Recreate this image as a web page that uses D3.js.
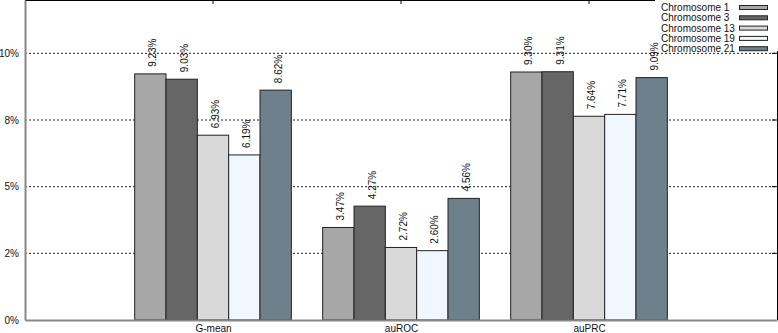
<!DOCTYPE html>
<html>
<head>
<meta charset="utf-8">
<script src="https://cdn.jsdelivr.net/npm/d3@7"></script>
<style>
    body { margin: 0; background: #fff; }
    #chart { width: 778px; height: 333px; }
    text { font-family: "Liberation Sans", Arial, sans-serif; font-size: 10px; fill: #111; }
</style>
</head>
<body>
<div id="chart"></div>
<script>
// data
const categories = ["G-mean", "auROC", "auPRC"];
const seriesNames = ["Chromosome 1", "Chromosome 3", "Chromosome 13", "Chromosome 19", "Chromosome 21"];
const chr1 = [9.23, 3.47, 9.30];
const chr3 = [9.03, 4.27, 9.31];
const chr13 = [6.93, 2.72, 7.64];
const chr19 = [6.19, 2.60, 7.71];
const chr21 = [8.62, 4.56, 9.09];
const yTickValues = [0, 2.5, 5, 7.5, 10];
const yTickLabels = ["0%", "2%", "5%", "8%", "10%"];

const colors = ["#a7a7a7", "#666666", "#d9d9d9", "#f0f7fe", "#6f808d"];

class GroupedBars {
    constructor(parentElement) {
        this.parentElement = parentElement;
        this.series = [chr1, chr3, chr13, chr19, chr21];
        this.displayData = [];
        this.series.forEach((vals, s) => {
            vals.forEach((v, c) => {
                this.displayData.push({series: s, cat: c, value: v});
            });
        });
    }

    initVis() {
        let vis = this;

        vis.margin = {top: 0, right: 1, bottom: 13, left: 25};
        vis.width = 778 - vis.margin.left - vis.margin.right;
        vis.height = 333 - vis.margin.top - vis.margin.bottom;

        vis.svg = d3.select("#" + vis.parentElement)
            .append("svg")
            .attr("width", 778)
            .attr("height", 333)
            .append("g")
            .attr("transform", "translate(" + vis.margin.left + "," + vis.margin.top + ")");

        // gnuplot style: groups at 1,2,3 on a 0..4 range
        vis.x = d3.scaleLinear().domain([0, 4]).range([0, vis.width]);
        vis.y = d3.scaleLinear().domain([0, 12]).range([vis.height, 0]);
        vis.barW = 1 / 6;

        // grid
        vis.svg.selectAll(".grid")
            .data(yTickValues.slice(1))
            .enter().append("line")
            .attr("class", "grid")
            .attr("x1", 0).attr("x2", vis.width)
            .attr("y1", d => vis.y(d)).attr("y2", d => vis.y(d))
            .attr("stroke", "#222")
            .attr("stroke-dasharray", "2,2");

        vis.updateVis();
    }

    updateVis() {
        let vis = this;

        vis.svg.selectAll(".bar")
            .data(vis.displayData)
            .enter().append("rect")
            .attr("class", "bar")
            .attr("x", d => vis.x(d.cat + 1 + (d.series - 2.5) * vis.barW))
            .attr("y", d => vis.y(d.value))
            .attr("width", vis.x(vis.barW) - vis.x(0))
            .attr("height", d => vis.y(0) - vis.y(d.value))
            .attr("fill", d => colors[d.series])
            .attr("stroke", "#222")
            .attr("stroke-width", 1);

        // borders
        vis.svg.append("line")
            .attr("x1", 0).attr("x2", 631).attr("y1", 0.5).attr("y2", 0.5)
            .attr("stroke", "#000");
        vis.svg.append("line")
            .attr("x1", vis.width + 0.5).attr("x2", vis.width + 0.5)
            .attr("y1", 51).attr("y2", vis.height)
            .attr("stroke", "#000");

        // mirror ticks
        vis.svg.selectAll(".rtick")
            .data(yTickValues.slice(1))
            .enter().append("line")
            .attr("x1", vis.width - 5).attr("x2", vis.width)
            .attr("y1", d => vis.y(d)).attr("y2", d => vis.y(d))
            .attr("stroke", "#000");
        vis.svg.selectAll(".ttick")
            .data(categories)
            .enter().append("line")
            .attr("x1", (d, i) => vis.x(i + 1)).attr("x2", (d, i) => vis.x(i + 1))
            .attr("y1", 0).attr("y2", 4)
            .attr("stroke", "#000");

        vis.xAxis = d3.axisBottom(vis.x)
            .tickValues([1, 2, 3])
            .tickFormat((d, i) => categories[i])
            .tickSize(0)
            .tickPadding(5);
        vis.yAxis = d3.axisLeft(vis.y)
            .tickValues(yTickValues)
            .tickFormat((d, i) => yTickLabels[i])
            .tickSize(0)
            .tickPadding(6);

        let gx = vis.svg.append("g")
            .attr("transform", "translate(0," + vis.height + ")")
            .call(vis.xAxis);
        let gy = vis.svg.append("g").call(vis.yAxis);
        [gx, gy].forEach(g => {
            g.selectAll("text").style("font-size", "10px").style("font-family", null);
            g.select(".domain").attr("stroke", "#888").attr("stroke-width", 2);
        });

        // legend
        let legend = vis.svg.append("g")
            .attr("transform", "translate(" + (vis.x(4) - 122) + ",0)");
        legend.append("rect")
            .attr("x", 0).attr("y", 0).attr("width", 122).attr("height", 51)
            .attr("fill", "#fff");
        seriesNames.forEach((name, i) => {
            let cy = 7.5 + i * 10.3;
            legend.append("text")
                .attr("x", 6).attr("y", cy)
                .attr("dy", "0.35em")
                .text(name);
            legend.append("rect")
                .attr("x", 84.5).attr("y", cy - 2)
                .attr("width", 28).attr("height", 4)
                .attr("fill", colors[i])
                .attr("stroke", "#222");
        });

        // value labels
        vis.svg.selectAll(".vlabel")
            .data(vis.displayData)
            .enter().append("text")
            .attr("class", "vlabel")
            .attr("transform", d => {
                let cx = vis.x(d.cat + 1 + (d.series - 2) * vis.barW) + 6;
                return "translate(" + cx + "," + (vis.y(d.value) - 7) + ") rotate(-90)";
            })
            .text(d => d.value.toFixed(2) + "%");
    }
}

let chart = new GroupedBars("chart");
chart.initVis();
</script>
</body>
</html>
